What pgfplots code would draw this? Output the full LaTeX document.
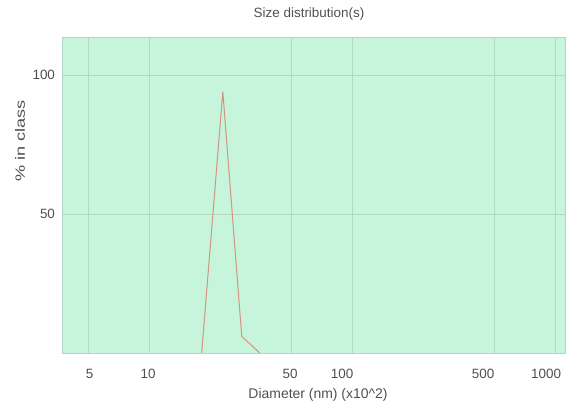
\documentclass[border=0pt]{standalone}
\usepackage{pgfplots}
\pgfplotsset{compat=1.18}
\usepackage{graphicx}
\usepackage{fontspec}
\setmainfont{Liberation Sans}
\definecolor{bgc}{RGB}{199,245,220}
\definecolor{gridc}{RGB}{176,216,196}
\definecolor{linec}{RGB}{212,148,125}
\definecolor{txt}{RGB}{80,80,80}
\begin{document}
\begin{tikzpicture}[x=1bp,y=1bp]
\begin{axis}[name=ax, at={(0,0)}, anchor=south west, scale only axis,
  width=503bp, height=316bp,
  xmode=log, xmin=3.72, xmax=1110, ymin=0, ymax=113.7,
  axis background/.style={fill=bgc},
  axis line style={gridc},
  xtick={5.08,9.86,49.3,88.8,439,896}, xticklabels={5,10,50,100,500,1000},
  extra x ticks={5,10,50,100,500,1000}, extra x tick labels={},
  extra x tick style={xmajorgrids=true, grid style={gridc, line width=0.7bp}},
  xmajorgrids=false, ymajorgrids=true,
  ytick={50,100}, yticklabels={50,100},
  major tick length=0pt, minor tick length=0pt,
  grid style={gridc, line width=0.7bp},
  tick label style={font=\fontsize{13.5}{15}\selectfont, text=txt},
  xticklabel style={anchor=center, yshift=-21bp},
  yticklabel style={xshift=-3.5bp},
  /pgf/number format/assume math mode=true,
  clip=true]
\addplot[color=linec, line width=1bp] coordinates {
  (18.1,0) (23.0,94) (28.5,6) (35.0,0)
};
\end{axis}
\node[text=txt, font=\fontsize{13.5}{15}\selectfont] at (247,339) {Size distribution(s)};
\node[text=txt, font=\fontsize{14}{16}\selectfont] at (256,-42) {Diameter (nm) (x10\^{}2)};
\node[text=txt, font=\fontsize{13.5}{15}\selectfont, rotate=90] at (-42,212) {\scalebox{1.35}[1]{\% in class}};
\pgfresetboundingbox
\path[use as bounding box] (-62,-57) rectangle (504,353);
\end{tikzpicture}
\end{document}
